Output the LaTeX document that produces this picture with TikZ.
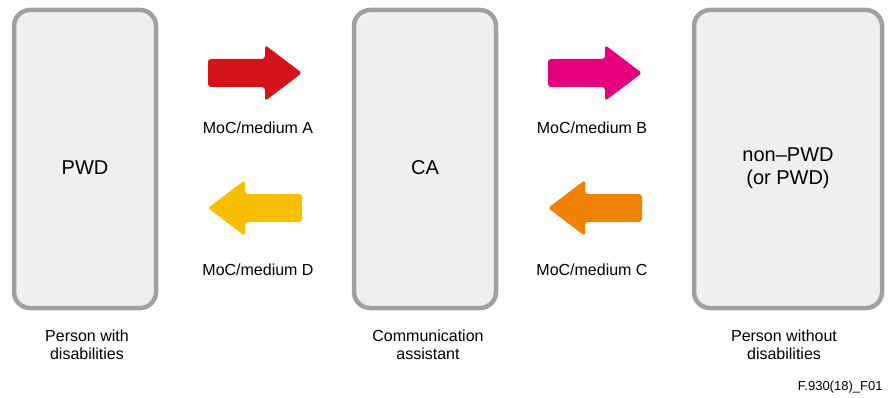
\documentclass[tikz,border=0pt]{standalone}
\usepackage{fontspec}
\setmainfont{Liberation Sans}
\definecolor{boxfill}{HTML}{EFEFEF}
\definecolor{boxdraw}{HTML}{A0A0A0}
\definecolor{cA}{HTML}{D5131B}
\definecolor{cB}{HTML}{E5007E}
\definecolor{cC}{HTML}{EF8200}
\definecolor{cD}{HTML}{F8BE00}
\begin{document}
\begin{tikzpicture}[x=1pt,y=-1pt,
  party/.style={draw=boxdraw,fill=boxfill,line width=4.5pt,rounded corners=16pt,
    minimum height=298pt,inner sep=0pt},
  boxlabel/.style={font=\fontsize{20}{23}\selectfont,align=center},
  arrlabel/.style={font=\fontsize{16}{18}\selectfont},
  caption/.style={font=\fontsize{16}{18}\selectfont,align=center},
  arr/.style={rounded corners=3pt}]
\useasboundingbox (0,0) rectangle (888,398);
\node[party,minimum width=142pt] (pwd) at (85,159) {};
\node[party,minimum width=142pt] (ca) at (425,159) {};
\node[party,minimum width=188pt] (np) at (788,159) {};
\node[boxlabel] at (pwd.center) [yshift=-9pt] {PWD};
\node[boxlabel] at (ca.center) [yshift=-9pt] {CA};
\node[boxlabel] at (np.center) [yshift=-9pt] {non–PWD\\(or PWD)};
% arrows
\fill[cA,arr] (208,59) -- (265,59) -- (265,45) -- (302,73) -- (265,101) -- (265,87) -- (208,87) -- cycle;
\fill[cB,arr] (548,59) -- (605,59) -- (605,45) -- (642,73) -- (605,101) -- (605,87) -- (548,87) -- cycle;
\fill[cD,arr] (302,194) -- (245,194) -- (245,180) -- (208,208) -- (245,236) -- (245,222) -- (302,222) -- cycle;
\fill[cC,arr] (642,194) -- (585,194) -- (585,180) -- (548,208) -- (585,236) -- (585,222) -- (642,222) -- cycle;
\node[arrlabel] (la) at (258,128) {MoC/medium A};
\node[arrlabel] (lb) at (592,128) {MoC/medium B};
\node[arrlabel] (ld) at (258,270) {MoC/medium D};
\node[arrlabel] (lc) at (592,270) {MoC/medium C};
\node[caption] (c1) at (87,345) {Person with\\disabilities};
\node[caption] (c2) at (428,345) {Communication\\assistant};
\node[caption] (c3) at (784,345) {Person without\\disabilities};
\node[font=\fontsize{13}{15}\selectfont,anchor=east] (fig) at (886,387) {F.930(18)\_F01};
\end{tikzpicture}
\end{document}
